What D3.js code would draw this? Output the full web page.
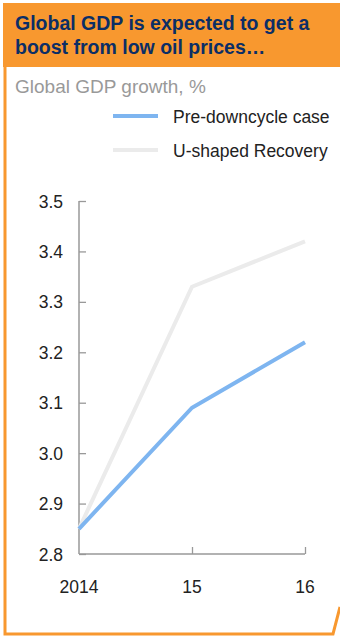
<!DOCTYPE html>
<html><head><meta charset="utf-8">
<script src="https://cdn.jsdelivr.net/npm/d3@7"></script>
<style>html,body{margin:0;padding:0;background:#fff;}svg{display:block;font-family:Arial,"Liberation Sans",sans-serif;}</style>
</head><body>
<svg id="c" width="340" height="638"></svg>
<script>
const years = ["2014", "15", "16"];
const preDowncycle = [2.85, 3.09, 3.22];
const uShaped = [2.85, 3.33, 3.42];
const yTicks = [2.8, 2.9, 3.0, 3.1, 3.2, 3.3, 3.4, 3.5];
const seriesNames = ["Pre-downcycle case", "U-shaped Recovery"];
const seriesColors = ["#7EB5F0", "#EBEBEB"];
const titleLines = ["Global GDP is expected to get a", "boost from low oil prices…"];
const subtitle = "Global GDP growth, %";

const svg = d3.select("#c");
const orange = "#F8982F";

// frame
svg.append("path")
  .attr("d", "M5,66 L5,634 L333,634 L340,607")
  .attr("fill", "none").attr("stroke", orange).attr("stroke-width", 3);
svg.append("rect").attr("x", 3).attr("y", 3).attr("width", 337).attr("height", 64).attr("fill", orange);

svg.selectAll("text.title").data(titleLines).enter().append("text")
  .attr("x", 15).attr("y", (d, i) => 30 + i * 24)
  .attr("font-size", 19.5).attr("font-weight", "bold").attr("fill", "#0B2E66")
  .text(d => d);

svg.append("text").attr("x", 15).attr("y", 93).attr("font-size", 19).attr("fill", "#999").text(subtitle);

// legend
seriesNames.forEach((n, i) => {
  const y = 116 + i * 34;
  svg.append("line").attr("x1", 113).attr("x2", 158).attr("y1", y).attr("y2", y)
    .attr("stroke", seriesColors[i]).attr("stroke-width", 4);
  svg.append("text").attr("x", 173).attr("y", y + 7).attr("font-size", 17.5).attr("fill", "#222").text(n);
});

const x = d3.scalePoint().domain(years).range([79, 305]);
const y = d3.scaleLinear().domain([2.8, 3.5]).range([554, 201]);

const yAxis = svg.append("g").attr("transform", "translate(79,0)")
  .call(d3.axisRight(y).tickValues(yTicks).tickSize(7).tickFormat(""));
yAxis.select(".domain").attr("stroke", "#999").attr("stroke-width", 1.5).attr("d", "M0,201V554");
yAxis.selectAll(".tick line").attr("stroke", "#999").attr("stroke-width", 1.3);

svg.selectAll("text.ylab").data(yTicks).enter().append("text")
  .attr("x", 63).attr("y", d => y(d) + 6.5).attr("text-anchor", "end")
  .attr("font-size", 17.5).attr("fill", "#222").text(d => d3.format(".1f")(d));

const xAxis = svg.append("g").attr("transform", "translate(0,554)")
  .call(d3.axisTop(x).tickSize(7).tickFormat(""));
xAxis.select(".domain").attr("stroke", "#999").attr("stroke-width", 1.5).attr("d", "M79,0H305");
xAxis.selectAll(".tick line").attr("stroke", "#999").attr("stroke-width", 1.3);
xAxis.selectAll(".tick").filter(d => d === "2014").remove();

svg.selectAll("text.xlab").data(years).enter().append("text")
  .attr("x", d => x(d)).attr("y", 593).attr("text-anchor", "middle")
  .attr("font-size", 17.5).attr("fill", "#222").text(d => d);

const line = d3.line().x((d, i) => x(years[i])).y(d => y(d));
[uShaped, preDowncycle].forEach((s, k) => {
  svg.append("path").attr("d", line(s)).attr("fill", "none")
    .attr("stroke", seriesColors[1 - k]).attr("stroke-width", 4).attr("stroke-linejoin", "miter");
});
</script>
</body></html>
